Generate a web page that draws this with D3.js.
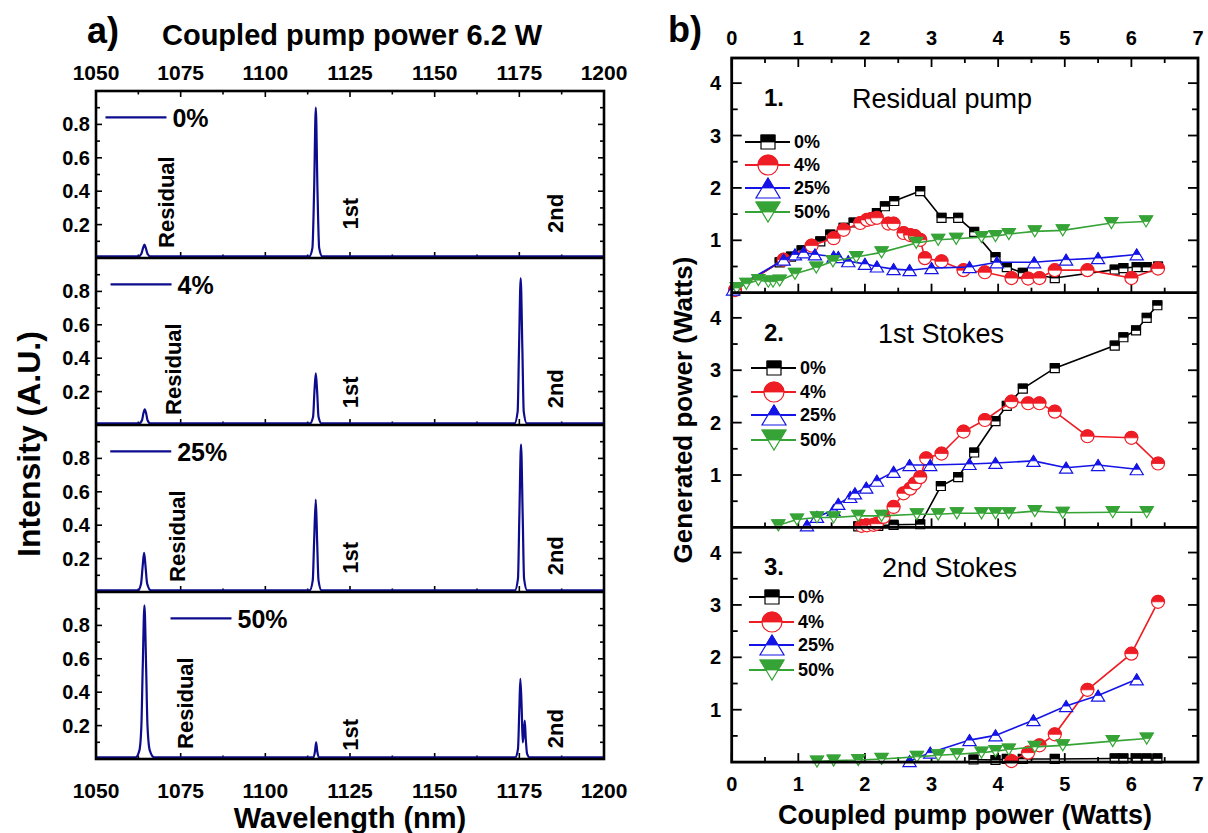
<!DOCTYPE html>
<html>
<head>
<meta charset="utf-8">
<script src="https://cdn.jsdelivr.net/npm/d3@7"></script>
<style>
    body { margin: 0; background: #fff; }
    svg { display: block; }
    text { font-family: "Liberation Sans", Arial, sans-serif; fill: #000; }
</style>
</head>
<body>
<div id="chart"></div>
<script>
// ---------- panel a : spectra (wavelength nm, intensity) ----------
var couplings = ["0%", "4%", "25%", "50%"];

var spec0 = [[1050, 0.01], [1062.6, 0.01], [1063.4, 0.025], [1063.9, 0.06], [1064.3, 0.08], [1064.7, 0.06], [1065.2, 0.025], [1066.0, 0.01],
    [1113.0, 0.01], [1113.9, 0.06], [1114.4, 0.4], [1114.9, 0.9], [1115.4, 0.4], [1115.9, 0.06], [1116.8, 0.01], [1200, 0.01]];
var spec4 = [[1050, 0.01], [1062.8, 0.01], [1063.6, 0.03], [1064.0, 0.07], [1064.4, 0.094], [1064.8, 0.07], [1065.2, 0.03], [1066.0, 0.01],
    [1113.2, 0.01], [1114.1, 0.05], [1114.5, 0.2], [1114.9, 0.31], [1115.3, 0.2], [1115.7, 0.05], [1116.6, 0.01],
    [1173.6, 0.01], [1174.5, 0.08], [1174.9, 0.45], [1175.4, 0.88], [1175.9, 0.45], [1176.3, 0.08], [1177.2, 0.01], [1200, 0.01]];
var spec25 = [[1050, 0.01], [1062.4, 0.01], [1063.3, 0.05], [1063.8, 0.16], [1064.2, 0.234], [1064.6, 0.16], [1065.1, 0.05], [1066.2, 0.01],
    [1113.1, 0.01], [1114.0, 0.07], [1114.4, 0.3], [1114.9, 0.554], [1115.3, 0.3], [1115.7, 0.07], [1116.6, 0.01],
    [1173.7, 0.01], [1174.6, 0.08], [1175.0, 0.45], [1175.5, 0.884], [1176.0, 0.45], [1176.4, 0.08], [1177.3, 0.01], [1200, 0.01]];
var spec50 = [[1050, 0.01], [1061.7, 0.01], [1062.8, 0.05], [1063.4, 0.2], [1063.8, 0.55], [1064.3, 0.92], [1064.8, 0.55], [1065.2, 0.2], [1065.9, 0.05], [1067.2, 0.01],
    [1114.2, 0.01], [1114.7, 0.05], [1115.0, 0.1], [1115.3, 0.05], [1115.8, 0.01],
    [1173.8, 0.01], [1174.6, 0.06], [1175.0, 0.3], [1175.3, 0.48], [1175.7, 0.3], [1176.0, 0.1], [1176.3, 0.15], [1176.6, 0.23], [1176.9, 0.12], [1177.3, 0.03], [1178.0, 0.01], [1200, 0.01]];
var spectra = [spec0, spec4, spec25, spec50];

var wavelengthTicks = [1050, 1075, 1100, 1125, 1150, 1175, 1200];
var intensityTicks = [0.2, 0.4, 0.6, 0.8];

// ---------- panel b : generated power vs coupled pump power (W, W) ----------
var residual0 = [[0.05, 0.05], [0.72, 0.58], [0.89, 0.69], [1.05, 0.81], [1.33, 0.98], [1.48, 1.11], [1.68, 1.24], [1.83, 1.34], [2.18, 1.52], [2.3, 1.65], [2.44, 1.75], [2.83, 1.94],
    [3.15, 1.43], [3.4, 1.43], [3.64, 1.16], [3.96, 0.68], [4.13, 0.49], [4.37, 0.38], [4.85, 0.28], [5.75, 0.44], [5.88, 0.47], [6.08, 0.49], [6.23, 0.49], [6.4, 0.5]];
var residual4 = [[0.05, 0.05], [0.78, 0.63], [1.2, 0.9], [1.53, 1.04], [1.68, 1.2], [1.93, 1.33], [2.03, 1.39], [2.1, 1.41], [2.18, 1.43], [2.35, 1.32], [2.43, 1.32], [2.58, 1.14], [2.68, 1.1],
    [2.75, 1.08], [2.83, 1.01], [2.9, 0.66], [3.15, 0.6], [3.48, 0.43], [3.8, 0.39], [4.2, 0.28], [4.45, 0.27], [4.62, 0.28], [4.85, 0.43], [5.34, 0.43], [6.0, 0.28], [6.4, 0.46]];
var residual25 = [[0.02, 0.06], [0.78, 0.63], [0.95, 0.73], [1.08, 0.77], [1.25, 0.73], [1.53, 0.69], [1.6, 0.68], [1.75, 0.6], [2.0, 0.55], [2.18, 0.5], [2.43, 0.45], [2.67, 0.43],
    [3.0, 0.47], [3.57, 0.49], [3.98, 0.58], [4.54, 0.58], [5.02, 0.63], [5.5, 0.66], [6.08, 0.73]];
var residual50 = [[0.075, 0.09], [0.22, 0.17], [0.4, 0.24], [0.55, 0.21], [0.62, 0.21], [0.72, 0.23], [0.95, 0.36], [1.27, 0.48], [1.52, 0.6], [1.87, 0.68], [2.25, 0.77], [2.77, 0.95],
    [3.1, 1.01], [3.37, 1.03], [3.75, 1.06], [3.96, 1.08], [4.16, 1.12], [4.55, 1.17], [4.97, 1.19], [5.7, 1.33], [6.22, 1.36]];

var first0 = [[1.9, 0.02], [2.2, 0.03], [2.43, 0.05], [2.83, 0.06], [3.14, 0.79], [3.4, 0.96], [3.64, 1.43], [3.96, 2.03], [4.13, 2.32], [4.37, 2.65], [4.85, 3.04], [5.75, 3.47],
    [5.88, 3.63], [6.07, 3.76], [6.23, 4.0], [6.39, 4.24]];
var first4 = [[1.95, 0.03], [2.03, 0.04], [2.13, 0.05], [2.18, 0.07], [2.28, 0.2], [2.43, 0.39], [2.58, 0.65], [2.68, 0.74], [2.75, 0.84], [2.83, 0.96], [2.92, 1.32], [3.15, 1.41],
    [3.48, 1.83], [3.8, 2.05], [4.2, 2.4], [4.45, 2.37], [4.62, 2.37], [4.85, 2.21], [5.34, 1.74], [6.0, 1.71], [6.4, 1.22]];
var first25 = [[1.13, 0.04], [1.28, 0.2], [1.53, 0.33], [1.6, 0.45], [1.78, 0.58], [1.85, 0.65], [2.02, 0.76], [2.18, 0.89], [2.43, 1.06], [2.67, 1.19], [2.98, 1.19], [3.57, 1.21],
    [3.96, 1.23], [4.53, 1.27], [5.02, 1.14], [5.5, 1.19], [6.08, 1.11]];
var first50 = [[0.7, 0.04], [0.98, 0.15], [1.28, 0.19], [1.53, 0.19], [1.9, 0.22], [2.25, 0.22], [2.78, 0.25], [3.1, 0.25], [3.38, 0.27], [3.75, 0.27], [3.96, 0.27], [4.16, 0.27],
    [4.55, 0.31], [4.97, 0.28], [5.72, 0.29], [6.23, 0.29]];

var second0 = [[3.63, 0.05], [3.96, 0.04], [4.13, 0.06], [4.37, 0.06], [4.85, 0.06], [5.75, 0.07], [5.88, 0.07], [6.08, 0.07], [6.23, 0.07], [6.39, 0.07]];
var second4 = [[4.2, 0.02], [4.45, 0.18], [4.62, 0.32], [4.85, 0.53], [5.34, 1.38], [6.0, 2.07], [6.4, 3.06]];
var second25 = [[2.67, 0.02], [2.98, 0.18], [3.57, 0.42], [3.96, 0.51], [4.53, 0.8], [5.02, 1.07], [5.5, 1.27], [6.08, 1.58]];
var second50 = [[1.28, 0.01], [1.53, 0.03], [1.9, 0.04], [2.25, 0.06], [2.78, 0.1], [3.1, 0.13], [3.38, 0.15], [3.75, 0.18], [3.96, 0.21], [4.16, 0.24], [4.55, 0.29], [4.97, 0.32],
    [5.72, 0.4], [6.23, 0.45]];

var stageNames = ["Residual pump", "1st Stokes", "2nd Stokes"];
var stageData = [
    [residual0, residual4, residual25, residual50],
    [first0, first4, first25, first50],
    [second0, second4, second25, second50]
];
var pumpTicks = [0, 1, 2, 3, 4, 5, 6, 7];
var powerTicks = [1, 2, 3, 4];

var seriesColors = ["#000000", "#ee1c24", "#1414e6", "#36a336"];
var seriesShapes = ["square", "circle", "up", "down"];
var spectrumColor = "#0c0c8c";

// ------------------------------------------------------------------
var svg = d3.select("#chart").append("svg").attr("width", 1208).attr("height", 833);

function tickLine(g, x1, y1, x2, y2, w) {
    g.append("line").attr("x1", x1).attr("y1", y1).attr("x2", x2).attr("y2", y2)
        .attr("stroke", "#000").attr("stroke-width", w || 1.6);
}

// ======================= panel a =======================
var ax = d3.scaleLinear().domain([1050, 1200]).range([96, 604]);
var aTop = 91, aH = 167;
var pa = svg.append("g");

// label positions (nm, intensity) for the rotated peak names
var residualX = [1073.0, 1075.0, 1076.2, 1078.6];
var firstY = [0.17, 0.1, 0.11, 0.05];
var secondY = [0.15, 0.1, 0.1, 0.065];
var legendStart = [1052.8, 1054.3, 1054.2, 1072.0];

var spectrumLine = d3.line().curve(d3.curveMonotoneX);

spectra.forEach(function (spec, i) {
    var top = aTop + i * aH;
    var ay = d3.scaleLinear().domain([0, 1]).range([top + aH, top]);
    var g = pa.append("g");

    // ticks: bottom (up), left/right (inward)
    d3.range(1050, 1200.01, 12.5).forEach(function (v) {
        var major = v % 25 === 0;
        tickLine(g, ax(v), ay(0), ax(v), ay(0) - (major ? 6 : 3.5));
        if (i === 0) tickLine(g, ax(v), ay(1), ax(v), ay(1) + (major ? 6 : 3.5));
    });
    d3.range(0.1, 0.95, 0.1).forEach(function (v) {
        var major = Math.round(v * 10) % 2 === 0;
        tickLine(g, ax(1050), ay(v), ax(1050) + (major ? 6 : 4), ay(v));
        tickLine(g, ax(1200), ay(v), ax(1200) - (major ? 6 : 4), ay(v));
    });
    intensityTicks.forEach(function (v) {
        g.append("text").attr("x", 90).attr("y", ay(v) + 7)
            .attr("text-anchor", "end").style("font-size", "20px").style("font-weight", "bold")
            .text(v.toFixed(1));
    });

    g.append("path")
        .datum(spec)
        .attr("d", spectrumLine.x(function (d) { return ax(d[0]); }).y(function (d) { return ay(d[1]); }))
        .attr("fill", "none").attr("stroke", spectrumColor).attr("stroke-width", 2.2);

    // legend
    var lx = ax(legendStart[i]);
    var ly = ay(0.8) - 7;
    g.append("line").attr("x1", lx).attr("y1", ly).attr("x2", lx + 61).attr("y2", ly)
        .attr("stroke", spectrumColor).attr("stroke-width", 2.2);
    g.append("text").attr("x", lx + 67).attr("y", ly + 10)
        .style("font-size", "25px").style("font-weight", "bold").text(couplings[i]);

    // rotated peak labels
    [["Residual", residualX[i], 0.06], ["1st", 1127.4, firstY[i]], ["2nd", 1187.8, secondY[i]]].forEach(function (p) {
        g.append("text")
            .attr("transform", "translate(" + ax(p[1]) + "," + ay(p[2]) + ") rotate(-90)")
            .style("font-size", "22px").style("font-weight", "bold").text(p[0]);
    });

    if (i > 0) tickLine(g, 96, top, 604, top, 2.4);
});

pa.append("rect").attr("x", 96).attr("y", aTop).attr("width", 508).attr("height", aH * 4)
    .attr("fill", "none").attr("stroke", "#000").attr("stroke-width", 2.6);

wavelengthTicks.forEach(function (v) {
    pa.append("text").attr("x", ax(v)).attr("y", 80).attr("text-anchor", "middle")
        .style("font-size", "21px").style("font-weight", "bold").text(v);
    pa.append("text").attr("x", ax(v)).attr("y", 798).attr("text-anchor", "middle")
        .style("font-size", "21px").style("font-weight", "bold").text(v);
});

pa.append("text").attr("x", 87).attr("y", 43).style("font-size", "36px").style("font-weight", "bold").text("a)");
pa.append("text").attr("x", 162).attr("y", 45).style("font-size", "29px").style("font-weight", "bold")
    .text("Coupled pump power 6.2 W");
pa.append("text").attr("x", 350).attr("y", 828).attr("text-anchor", "middle")
    .style("font-size", "29px").style("font-weight", "bold").text("Wavelength (nm)");
pa.append("text").attr("transform", "translate(40,444) rotate(-90)").attr("text-anchor", "middle")
    .style("font-size", "32px").style("font-weight", "bold").text("Intensity (A.U.)");

// ======================= panel b =======================
var bx = d3.scaleLinear().domain([0, 7]).range([731.7, 1198]);
var bTop = 58, bH = 234.7;
var pb = svg.append("g");

function markerPaths(shape, s) {
    var h = s / 2, w = s * 0.6;
    if (shape === "square") {
        return {
            full: "M" + (-h) + "," + (-h) + "H" + h + "V" + h + "H" + (-h) + "Z",
            top: "M" + (-h) + "," + (-h) + "H" + h + "V0H" + (-h) + "Z"
        };
    }
    if (shape === "circle") {
        return {
            full: "M" + (-h) + ",0A" + h + "," + h + " 0 1 1 " + h + ",0A" + h + "," + h + " 0 1 1 " + (-h) + ",0Z",
            top: "M" + (-h) + ",0A" + h + "," + h + " 0 0 1 " + h + ",0Z"
        };
    }
    if (shape === "up") {
        return {
            full: "M0," + (-h) + "L" + w + "," + h + "L" + (-w) + "," + h + "Z",
            top: "M0," + (-h) + "L" + (w / 2) + ",0L" + (-w / 2) + ",0Z"
        };
    }
    return {
        full: "M" + (-w) + "," + (-h) + "L" + w + "," + (-h) + "L0," + h + "Z",
        top: "M" + (-w) + "," + (-h) + "L" + w + "," + (-h) + "L" + (w / 2) + ",0L" + (-w / 2) + ",0Z"
    };
}

function drawMarker(g, x, y, shape, color, s) {
    var p = markerPaths(shape, s);
    var m = g.append("g").attr("transform", "translate(" + x + "," + y + ")");
    m.append("path").attr("d", p.full).attr("fill", "#fff").attr("stroke", color).attr("stroke-width", 1.2);
    m.append("path").attr("d", p.top).attr("fill", color).attr("stroke", color).attr("stroke-width", 0.8);
}

var markerSize = [9, 13, 11, 11];
var legendSize = [14, 20, 20, 20];
var labelTitleX = [852, 878, 882];
var legendRows = [[142, 165, 188, 212], [368, 392, 415, 440], [597, 622, 645, 670]];
var legendX = [745, 751, 749];

stageData.forEach(function (series, k) {
    var top = bTop + k * bH;
    var by = d3.scaleLinear().domain([0, 4.48]).range([top + bH, top]);
    var g = pb.append("g");

    d3.range(0, 7.01, 0.5).forEach(function (v) {
        var major = v % 1 === 0;
        tickLine(g, bx(v), by(0), bx(v), by(0) - (major ? 9 : 5), 1.8);
        if (k === 0) tickLine(g, bx(v), top, bx(v), top + (major ? 9 : 5), 1.8);
    });
    d3.range(0.5, 4.01, 0.5).forEach(function (v) {
        var major = v % 1 === 0;
        tickLine(g, bx(0), by(v), bx(0) + (major ? 10 : 6), by(v), 1.8);
        tickLine(g, bx(7), by(v), bx(7) - (major ? 10 : 6), by(v), 1.8);
    });
    powerTicks.forEach(function (v) {
        g.append("text").attr("x", 721).attr("y", by(v) + 7).attr("text-anchor", "end")
            .style("font-size", "20px").style("font-weight", "bold").text(v);
    });

    var line = d3.line().x(function (d) { return bx(d[0]); }).y(function (d) { return by(d[1]); });
    series.forEach(function (pts, j) {
        g.append("path").datum(pts).attr("d", line)
            .attr("fill", "none").attr("stroke", seriesColors[j]).attr("stroke-width", 1.6);
        pts.forEach(function (d) {
            drawMarker(g, bx(d[0]), by(d[1]), seriesShapes[j], seriesColors[j], markerSize[j]);
        });
    });

    // legend
    couplings.forEach(function (c, j) {
        var ly = legendRows[k][j];
        var lx = legendX[k];
        g.append("line").attr("x1", lx).attr("y1", ly).attr("x2", lx + 45).attr("y2", ly)
            .attr("stroke", seriesColors[j]).attr("stroke-width", 2);
        drawMarker(g, lx + 23, ly, seriesShapes[j], seriesColors[j], legendSize[j]);
        g.append("text").attr("x", lx + 49).attr("y", ly + 6)
            .style("font-size", "18px").style("font-weight", "bold").text(c);
    });

    g.append("text").attr("x", 764).attr("y", top + 48)
        .style("font-size", "24px").style("font-weight", "bold").text((k + 1) + ".");
    g.append("text").attr("x", labelTitleX[k]).attr("y", top + 50)
        .style("font-size", "27px").text(stageNames[k]);

    if (k > 0) tickLine(g, bx(0), top, bx(7), top, 2.8);
});

pb.append("rect").attr("x", bx(0)).attr("y", bTop).attr("width", bx(7) - bx(0)).attr("height", bH * 3)
    .attr("fill", "none").attr("stroke", "#000").attr("stroke-width", 2.8);

pumpTicks.forEach(function (v) {
    pb.append("text").attr("x", bx(v)).attr("y", 45).attr("text-anchor", "middle")
        .style("font-size", "20px").style("font-weight", "bold").text(v);
    pb.append("text").attr("x", bx(v)).attr("y", 791).attr("text-anchor", "middle")
        .style("font-size", "20px").style("font-weight", "bold").text(v);
});

pb.append("text").attr("x", 668).attr("y", 42).style("font-size", "36px").style("font-weight", "bold").text("b)");
pb.append("text").attr("x", 965).attr("y", 824).attr("text-anchor", "middle")
    .style("font-size", "27px").style("font-weight", "bold").text("Coupled pump power (Watts)");
pb.append("text").attr("transform", "translate(692,410) rotate(-90)").attr("text-anchor", "middle")
    .style("font-size", "26px").style("font-weight", "bold").text("Generated power (Watts)");
</script>
</body>
</html>
